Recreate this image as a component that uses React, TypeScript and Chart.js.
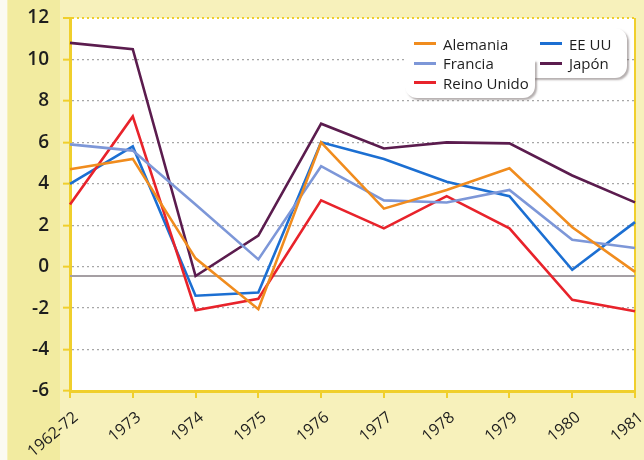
import React, { useEffect, useRef } from "react";
import { Chart, registerables } from "chart.js";

Chart.register(...registerables);

const years = ["1962-72", "1973", "1974", "1975", "1976", "1977", "1978", "1979", "1980", "1981"];
const alemania = [4.7, 5.2, 0.4, -2.05, 6.0, 2.8, 3.7, 4.75, 1.9, -0.25];
const francia = [5.9, 5.6, 3.0, 0.35, 4.85, 3.2, 3.1, 3.7, 1.3, 0.9];
const reinoUnido = [3.0, 7.25, -2.1, -1.55, 3.2, 1.85, 3.4, 1.85, -1.6, -2.15];
const eeuu = [4.0, 5.8, -1.4, -1.25, 6.0, 5.2, 4.1, 3.4, -0.15, 2.15];
const japon = [10.8, 10.5, -0.45, 1.5, 6.9, 5.7, 6.0, 5.95, 4.4, 3.1];
const yTicks = [-6, -4, -2, 0, 2, 4, 6, 8, 10, 12];
const refLineValue = -0.45;

const seriesNames = ["Alemania", "Francia", "Reino Unido", "EE UU", "Japón"];
const seriesColors = ["#f08c1e", "#7d97d8", "#e8232b", "#1c6fd2", "#5b1c4e"];
const seriesData = [alemania, francia, reinoUnido, eeuu, japon];

const YELLOW = "#f0cf2c";

const refLinePlugin = {
  id: "refLine",
  beforeDatasetsDraw(chart: any) {
    const y = chart.scales.y.getPixelForValue(refLineValue);
    const { left, right } = chart.chartArea;
    const ctx = chart.ctx;
    ctx.save();
    ctx.strokeStyle = "#a59fa3";
    ctx.lineWidth = 2;
    ctx.beginPath();
    ctx.moveTo(left, y);
    ctx.lineTo(right, y);
    ctx.stroke();
    ctx.restore();
  },
};

const bgPlugin = {
  id: "plotBg",
  beforeDraw(chart: any) {
    const { left, right, top, bottom } = chart.chartArea;
    const ctx = chart.ctx;
    ctx.save();
    ctx.fillStyle = "#f7f1bb";
    ctx.fillRect(0, 0, chart.width, chart.height);
    ctx.fillStyle = "#f2eba0";
    ctx.fillRect(8, 0, 52, chart.height);
    ctx.fillStyle = "#fbfaf2";
    ctx.fillRect(0, 0, 7, chart.height);
    ctx.fillStyle = "#ffffff";
    ctx.fillRect(left, top, right - left, bottom - top);
    ctx.restore();
  },
};

export default function App() {
  const ref = useRef<HTMLCanvasElement>(null);

  useEffect(() => {
    const chart = new Chart(ref.current!, {
      type: "line",
      data: {
        labels: years,
        datasets: seriesNames.map((name, i) => ({
          label: name,
          data: seriesData[i],
          borderColor: seriesColors[i],
          backgroundColor: seriesColors[i],
          borderWidth: 2.6,
          pointRadius: 0,
          tension: 0,
        })),
      },
      options: {
        animation: false,
        responsive: false,
        layout: { padding: { top: 18, right: 9, left: 0, bottom: 0 } },
        plugins: { legend: { display: false }, tooltip: { enabled: false } },
        scales: {
          x: {
            offset: false,
            grid: {
              color: (c: any) => (c.index === years.length - 1 ? YELLOW : "rgba(0,0,0,0)"),
              lineWidth: 2,
              tickColor: YELLOW,
              tickLength: 7,
              tickWidth: 2,
            },
            border: { color: YELLOW, width: 3 },
            ticks: {
              autoSkip: false,
              minRotation: 40,
              maxRotation: 40,
              color: "#1e1e1e",
              padding: 10,
              labelOffset: 6,
              font: { family: "Open Sans", size: 16 },
            },
            afterFit: (s: any) => {
              s.height = 69;
              s.paddingLeft = 0;
              s.paddingRight = 0;
            },
          },
          y: {
            min: -6,
            max: 12,
            afterBuildTicks: (s: any) => {
              s.ticks = yTicks.map((v) => ({ value: v }));
            },
            grid: {
              color: (c: any) =>
                c.tick && c.tick.value === 12 ? YELLOW : c.tick && c.tick.value === -6 ? "rgba(0,0,0,0)" : "#a7a7a7",
              lineWidth: (c: any) => (c.tick && c.tick.value === 12 ? 2 : 1.3),
              tickColor: YELLOW,
              tickLength: 7,
              tickWidth: 2,
              tickBorderDash: [],
            },
            border: { color: YELLOW, width: 3, dash: [2, 3] },
            ticks: {
              color: "#1e1e1e",
              padding: 14,
              font: { family: "Open Sans", size: 19, weight: "600" },
            },
            afterFit: (s: any) => {
              s.width = 70;
              s.paddingTop = 0;
              s.paddingBottom = 0;
            },
          },
        },
      },
      plugins: [bgPlugin, refLinePlugin],
    } as any);
    return () => chart.destroy();
  }, []);

  const legendCols = [
    [0, 1, 2],
    [3, 4],
  ];

  return (
    <div style={{ position: "absolute", left: 0, top: 0, width: 644, height: 460, overflow: "hidden" }}>
      <canvas ref={ref} width={644} height={460} style={{ display: "block" }} />
      <div
        style={{
          position: "absolute",
          left: 405,
          top: 28,
          width: 222,
          height: 50,
          background: "#fff",
          borderRadius: 12,
          boxShadow: "2px 2px 2px rgba(120,110,110,0.55)",
        }}
      />
      <div
        style={{
          position: "absolute",
          left: 405,
          top: 60,
          width: 130,
          height: 38,
          background: "#fff",
          borderRadius: "0 0 12px 12px",
          boxShadow: "2px 2px 2px rgba(120,110,110,0.55)",
        }}
      />
      <div style={{ position: "absolute", left: 405, top: 60, width: 128, height: 20, background: "#fff" }} />
      {legendCols.map((col, ci) => (
        <div key={ci} style={{ position: "absolute", left: ci === 0 ? 414 : 540, top: 34 }}>
          {col.map((idx) => (
            <div
              key={idx}
              style={{
                display: "flex",
                alignItems: "center",
                height: 19.5,
                fontFamily: "Open Sans",
                fontSize: 15,
                color: "#1e1e1e",
                whiteSpace: "nowrap",
              }}
            >
              <span
                style={{
                  display: "inline-block",
                  width: 22,
                  height: 3,
                  background: seriesColors[idx],
                  marginRight: 7,
                }}
              />
              {seriesNames[idx]}
            </div>
          ))}
        </div>
      ))}
    </div>
  );
}
